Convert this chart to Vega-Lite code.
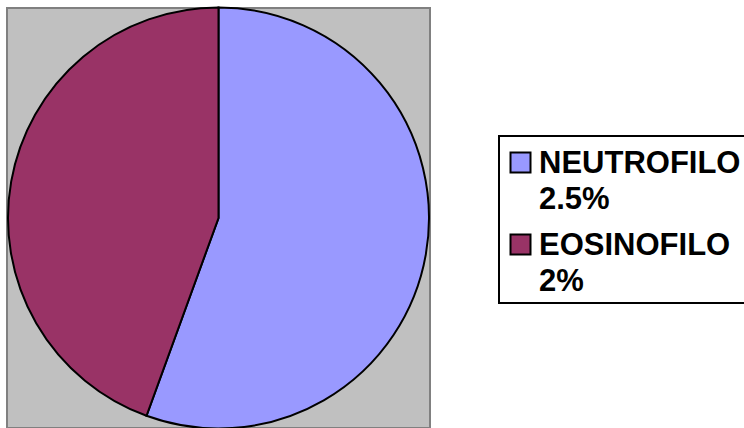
{
  "$schema": "https://vega.github.io/schema/vega-lite/v6.json",
  "autosize": {"type": "none"},
  "width": 423,
  "height": 420,
  "padding": {"left": 7, "top": 8, "right": 314, "bottom": 0},
  "background": "white",
  "data": {
    "values": [
      {"category": "NEUTROFILO", "value": 2.5, "order": 1},
      {"category": "EOSINOFILO", "value": 2, "order": 2}
    ]
  },
  "layer": [
    {
      "mark": {"type": "rect", "fill": "#c0c0c0", "stroke": "#808080", "strokeWidth": 2},
      "encoding": {}
    },
    {
      "mark": {"type": "arc", "radius": 210.5, "stroke": "black", "strokeWidth": 2},
      "encoding": {
        "theta": {"field": "value", "type": "quantitative", "stack": true},
        "order": {"field": "order", "type": "quantitative"},
        "color": {
          "field": "category",
          "type": "nominal",
          "scale": {"domain": ["NEUTROFILO", "EOSINOFILO"], "range": ["#9999ff", "#993366"]},
          "legend": {
            "title": " ",
            "titleFontSize": 1,
            "titlePadding": 4,
            "orient": "none",
            "legendX": 492,
            "legendY": 128,
            "padding": 6,
            "strokeColor": "black",
            "fillColor": "white",
            "symbolType": "square",
            "symbolSize": 400,
            "symbolStrokeColor": "black",
            "symbolOpacity": 1,
            "labelFont": "Liberation Sans",
            "labelFontWeight": "bold",
            "labelFontSize": 31,
            "labelColor": "black",
            "labelLimit": 400,
            "labelOffset": 3,
            "labelBaseline": "top",
            "rowPadding": 14,
            "labelExpr": "datum.label == 'NEUTROFILO' ? ['NEUTROFILO', '2.5%'] : ['EOSINOFILO', '2%']",
            "encoding": {
              "labels": {"dy": {"value": -14}, "lineHeight": {"value": 36}},
              "symbols": {"strokeWidth": {"value": 2}},
              "legend": {"strokeWidth": {"value": 2}}
            }
          }
        }
      }
    }
  ],
  "config": {
    "view": {"stroke": null}
  }
}
